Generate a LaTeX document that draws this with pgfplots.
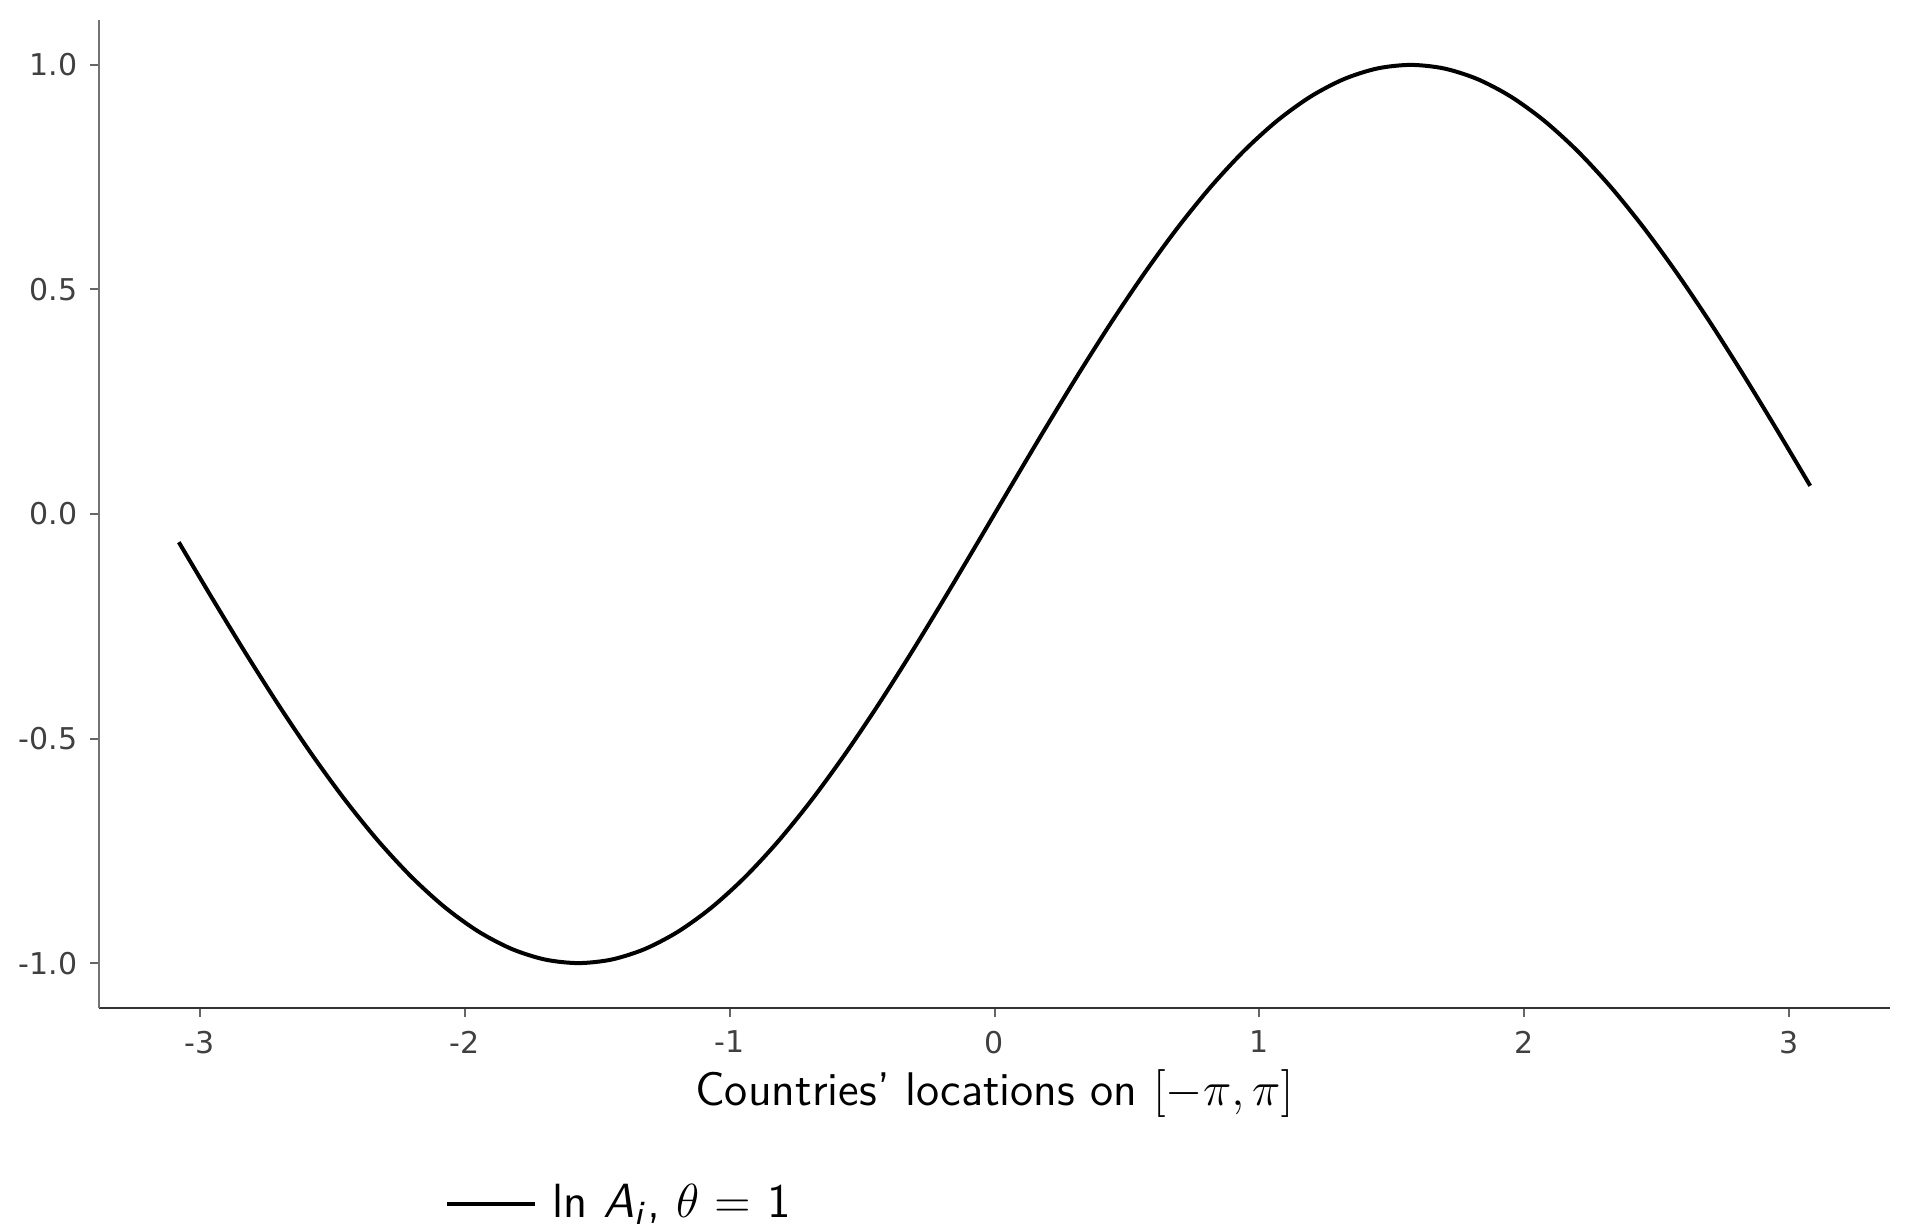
\documentclass[border=0pt]{standalone}
\usepackage{pgfplots}
\pgfplotsset{compat=1.18}
\usepackage{fontspec}
\newfontfamily\tickfont{DejaVu Sans}

% ln A_i = sin(location), sampled at 50 evenly spaced countries on [-pi, pi]
\pgfplotstableread{
x y
-3.07876 -0.06279
-2.95310 -0.18738
-2.82743 -0.30902
-2.70177 -0.42578
-2.57611 -0.53583
-2.45044 -0.63742
-2.32478 -0.72897
-2.19911 -0.80902
-2.07345 -0.87631
-1.94779 -0.92978
-1.82212 -0.96858
-1.69646 -0.99211
-1.57080 -1.00000
-1.44513 -0.99211
-1.31947 -0.96858
-1.19381 -0.92978
-1.06814 -0.87631
-0.94248 -0.80902
-0.81681 -0.72897
-0.69115 -0.63742
-0.56549 -0.53583
-0.43982 -0.42578
-0.31416 -0.30902
-0.18850 -0.18738
-0.06283 -0.06279
0.06283 0.06279
0.18850 0.18738
0.31416 0.30902
0.43982 0.42578
0.56549 0.53583
0.69115 0.63742
0.81681 0.72897
0.94248 0.80902
1.06814 0.87631
1.19381 0.92978
1.31947 0.96858
1.44513 0.99211
1.57080 1.00000
1.69646 0.99211
1.82212 0.96858
1.94779 0.92978
2.07345 0.87631
2.19911 0.80902
2.32478 0.72897
2.45044 0.63742
2.57611 0.53583
2.70177 0.42578
2.82743 0.30902
2.95310 0.18738
3.07876 0.06279
}\lnA

\begin{document}
\begin{tikzpicture}
\path[use as bounding box] (0,0) rectangle (478bp,306.25bp);
\begin{axis}[
  at={(24.75bp,54.25bp)}, anchor=south west,
  scale only axis,
  width=447.75bp, height=247bp,
  xmin=-3.38, xmax=3.38,
  ymin=-1.1, ymax=1.1,
  axis lines=left,
  axis line style={-},
  x axis line style={black!80, line width=0.7bp},
  y axis line style={black!55, line width=0.7bp},
  xtick={-3,-2,-1,0,1,2,3},
  xticklabels={-3,-2,-1,0,1,2,3},
  ytick={-1,-0.5,0,0.5,1},
  yticklabels={-1.0,-0.5,0.0,0.5,1.0},
  tick align=outside,
  major tick length=2.2bp,
  tick style={black!60, line width=0.5bp},
  ticklabel style={font=\tickfont\fontsize{7.5bp}{9bp}\selectfont, text=black!75},
  xticklabel style={yshift=0bp},
  yticklabel style={xshift=0.3bp},
  xlabel={Countries' locations on $[-\pi,\pi]$},
  xlabel style={font=\sffamily\fontsize{11.8bp}{14bp}\selectfont, yshift=2.8bp},
  legend style={draw=none, fill=none, at={(0.186,-0.198)}, anchor=west,
    font=\sffamily\fontsize{12bp}{14bp}\selectfont,
    legend cell align=left, nodes={inner xsep=4bp}},
  legend image code/.code={\draw[#1] (0bp,0bp) -- (22bp,0bp);},
]
\addplot[black, line width=1bp, smooth] table[x=x, y=y] {\lnA};
\addlegendentry{ln \textit{A}\textsubscript{\textit{i}}, $\theta$ = 1}
\end{axis}
\end{tikzpicture}
\end{document}
